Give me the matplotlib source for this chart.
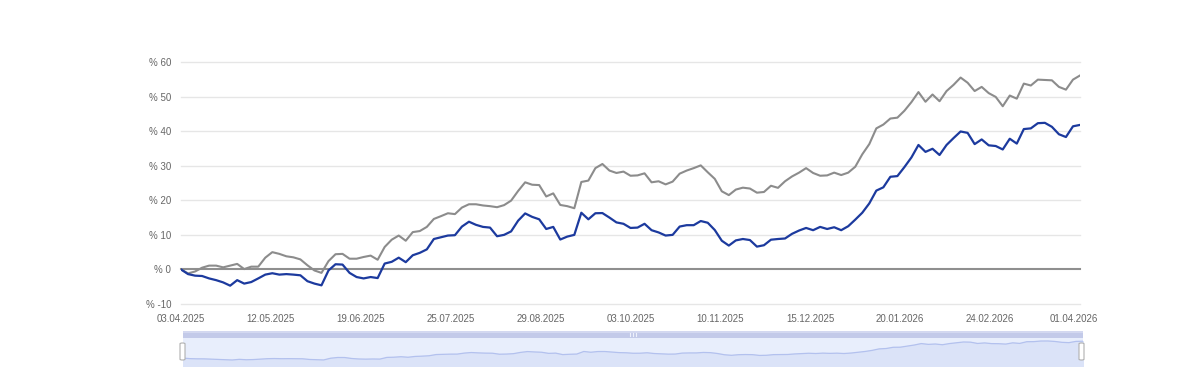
import numpy as np
import matplotlib
matplotlib.use("Agg")
import matplotlib.pyplot as plt
import matplotlib.transforms as mtransforms
from matplotlib.patches import FancyBboxPatch, Rectangle

plt.rcParams['font.family'] = ['Liberation Sans', 'DejaVu Sans']

# Performance in % (sampled about every second trading day, 03.04.2025 - 01.04.2026)
fund = [0.0, -1.35, -1.8, -1.9, -2.6, -3.1, -3.75, -4.7, -3.1, -4.1, -3.65, -2.6, -1.5, -1.1,
        -1.5, -1.35, -1.5, -1.7, -3.4, -4.1, -4.6, -0.3, 1.5, 1.4, -1.0, -2.2, -2.6, -2.2, -2.5,
        1.7, 2.2, 3.4, 2.1, 4.1, 4.8, 5.8, 8.8, 9.3, 9.8, 9.9, 12.4, 13.8, 12.9, 12.3, 12.1,
        9.6, 10.0, 11.0, 14.1, 16.2, 15.2, 14.5, 11.7, 12.3, 8.65, 9.5, 10.0, 16.4, 14.5, 16.25,
        16.3, 15.0, 13.6, 13.2, 12.0, 12.1, 13.2, 11.35, 10.7, 9.8, 10.0, 12.4, 12.8, 12.8, 14.0,
        13.5, 11.4, 8.3, 6.9, 8.4, 8.8, 8.5, 6.6, 7.0, 8.6, 8.8, 8.95, 10.3, 11.25, 12.0, 11.35,
        12.3, 11.7, 12.2, 11.35, 12.5, 14.4, 16.4, 19.1, 22.8, 23.75, 26.8, 27.0, 29.6, 32.4,
        36.0, 34.0, 34.9, 33.1, 36.0, 38.0, 39.9, 39.5, 36.25, 37.6, 35.9, 35.7, 34.7, 37.8,
        36.4, 40.6, 40.8, 42.3, 42.4, 41.25, 39.1, 38.3, 41.4, 41.8]

benchmark = [0.0, -1.15, -0.6, 0.5, 1.1, 1.1, 0.6, 1.1, 1.6, 0.1, 0.8, 0.8, 3.4, 5.0, 4.5,
             3.8, 3.5, 2.9, 1.2, -0.3, -1.0, 2.4, 4.4, 4.5, 3.1, 3.1, 3.6, 4.0, 2.8, 6.5, 8.6,
             9.8, 8.3, 10.8, 11.1, 12.3, 14.6, 15.4, 16.25, 16.0, 17.9, 18.85, 18.85, 18.5, 18.3,
             18.0, 18.6, 19.9, 22.7, 25.2, 24.5, 24.4, 21.1, 22.0, 18.65, 18.3, 17.7, 25.3, 25.7,
             29.3, 30.5, 28.6, 27.9, 28.3, 27.1, 27.2, 27.8, 25.2, 25.5, 24.6, 25.4, 27.7, 28.6,
             29.3, 30.1, 28.1, 26.2, 22.6, 21.5, 23.1, 23.65, 23.4, 22.2, 22.4, 24.2, 23.6, 25.5,
             26.9, 28.0, 29.3, 27.9, 27.1, 27.2, 28.0, 27.3, 28.0, 29.7, 33.3, 36.25, 40.8, 41.9,
             43.65, 43.9, 45.9, 48.4, 51.3, 48.5, 50.6, 48.65, 51.6, 53.4, 55.5, 54.0, 51.6, 52.8,
             51.0, 49.9, 47.2, 50.3, 49.4, 53.75, 53.2, 54.9, 54.8, 54.7, 52.8, 52.0, 54.9, 56.1]

tick_labels = ["03.04.2025", "12.05.2025", "19.06.2025", "25.07.2025", "29.08.2025",
               "03.10.2025", "10.11.2025", "15.12.2025", "20.01.2026", "24.02.2026", "01.04.2026"]
y_ticks = [-10, 0, 10, 20, 30, 40, 50, 60]

W, H = 1200, 381
fig = plt.figure(figsize=(W / 100, H / 100), dpi=100)

def frac(x0, y0, x1, y1):
    return [x0 / W, 1 - y1 / H, (x1 - x0) / W, (y1 - y0) / H]

x = np.arange(len(fund))
n = len(fund) - 1

ax = fig.add_axes(frac(181, 62, 1080, 304))
ax.set_xlim(0, n)
ax.set_ylim(-10, 60)
for s in ax.spines.values():
    s.set_visible(False)
for v in y_ticks:
    if v == 0:
        ax.axhline(v, color="#8f8f8f", lw=1.5, zorder=1, clip_on=False)
    else:
        ax.axhline(v, color="#e6e6e6", lw=1.0, zorder=0, clip_on=False)
ax.plot(x, benchmark, color="#8c8c8c", lw=1.5, zorder=3, solid_joinstyle="round")
ax.plot(x, fund, color="#1c3a9e", lw=1.6, zorder=4, solid_joinstyle="round")

ax.set_yticks(y_ticks)
ax.set_yticklabels([f"% {v}" for v in y_ticks])
ax.set_xticks(np.linspace(0, n, len(tick_labels)))
ax.set_xticklabels(tick_labels)
ax.tick_params(axis="both", length=0, labelsize=7, labelcolor="#666666")
ax.tick_params(axis="y", pad=7)
ax.tick_params(axis="x", pad=7)
last = ax.get_xticklabels()[-1]
last.set_transform(last.get_transform() + mtransforms.ScaledTranslation(-6 / 100, 0, fig.dpi_scale_trans))

# Scrollbar
sb = fig.add_axes(frac(183, 331, 1083, 338))
sb.set_xlim(0, 1); sb.set_ylim(0, 1)
sb.axis("off")
sb.add_patch(Rectangle((0, 0), 1, 1, facecolor="#c3cae9", edgecolor="none"))
sb.add_patch(Rectangle((0, 0.75), 1, 0.25, facecolor="#d3d8f0", edgecolor="none"))
for gx in (0.4965, 0.5, 0.5035):
    sb.plot([gx, gx], [0.25, 0.75], color="#eef1fb", lw=0.8)

# Navigator
nav = fig.add_axes(frac(183, 338, 1083, 366))
nav.set_xlim(0, n)
nav.set_ylim(-19.6, 49.8)
nav.axis("off")
nav.add_patch(Rectangle((0, -19.6), n, 69.4, facecolor="#e8eefc", edgecolor="none", zorder=0))
nav.fill_between(x, fund, -19.6, color="#dbe3f8", zorder=1)
nav.plot(x, fund, color="#b3c1ee", lw=0.9, zorder=2)

for hx in (180, 1079):
    fig.patches.append(FancyBboxPatch(((hx) / W, 1 - 360 / H), 5 / W, 17 / H,
                                      boxstyle="round,pad=0,rounding_size=0.002",
                                      transform=fig.transFigure, facecolor="white",
                                      edgecolor="#b0b0b0", lw=0.8, zorder=5))

fig.savefig("out.png", dpi=100)
